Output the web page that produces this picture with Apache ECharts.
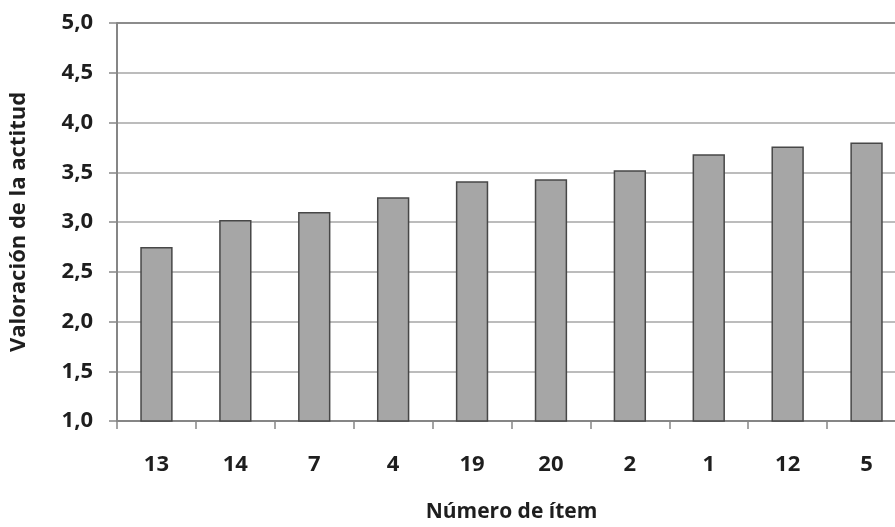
<!DOCTYPE html>
<html>
<head>
<meta charset="utf-8">
<script src="https://cdn.jsdelivr.net/npm/echarts@6/dist/echarts.min.js"></script>
<style>
html,body{margin:0;padding:0;background:#fff;}
#chart{width:895px;height:527px;}
</style>
</head>
<body>
<div id="chart"></div>
<script>
const categories = ['13', '14', '7', '4', '19', '20', '2', '1', '12', '5'];
const values = [2.75, 3.02, 3.10, 3.25, 3.41, 3.43, 3.52, 3.68, 3.76, 3.80];
const yMin = 1.0, yMax = 5.0, yStep = 0.5;
const yTitle = 'Valoración de la actitud';
const xTitle = 'Número de ítem';

const FONT = '"Open Sans", sans-serif';
const chart = echarts.init(document.getElementById('chart'));
const gridColors = [];
for (let v = yMin; v <= yMax + 1e-9; v += yStep) gridColors.push(Math.abs(v - yMax) < 1e-9 ? '#8c8c8c' : '#bcbcbc');

chart.setOption({
  animation: false,
  backgroundColor: '#ffffff',
  grid: { left: 117, top: 23, bottom: 106, width: 789, containLabel: false, outerBoundsMode: 'none' },
  xAxis: {
    type: 'category',
    data: categories,
    boundaryGap: true,
    name: xTitle,
    nameLocation: 'middle',
    nameGap: 81,
    nameTextStyle: { fontFamily: FONT, fontWeight: 'bold', fontSize: 21, color: '#1e1e1e' },
    axisLine: { show: true, lineStyle: { color: '#868686', width: 2 } },
    axisTick: { show: true, length: 8, alignWithLabel: false, lineStyle: { color: '#868686', width: 1.5 } },
    axisLabel: { margin: 33, fontFamily: FONT, fontWeight: 'bold', fontSize: 22, color: '#1e1e1e' },
    splitLine: { show: false }
  },
  yAxis: {
    type: 'value',
    min: yMin,
    max: yMax,
    interval: yStep,
    name: yTitle,
    nameLocation: 'middle',
    nameGap: 87,
    nameRotate: 90,
    nameTextStyle: { fontFamily: FONT, fontWeight: 'bold', fontSize: 22, color: '#1e1e1e' },
    axisLine: { show: true, lineStyle: { color: '#868686', width: 2 } },
    axisTick: { show: true, length: 8, lineStyle: { color: '#868686', width: 1.5 } },
    axisLabel: {
      margin: 24, fontFamily: FONT, fontWeight: 'bold', fontSize: 22, color: '#1e1e1e',
      formatter: v => v.toFixed(1).replace('.', ',')
    },
    splitLine: { show: true, lineStyle: { color: gridColors, width: 2 } }
  },
  series: [{
    type: 'bar',
    data: values,
    barWidth: '41%',
    itemStyle: { color: '#a6a6a6', borderColor: '#474747', borderWidth: 1.5 }
  }]
});
</script>
</body>
</html>
